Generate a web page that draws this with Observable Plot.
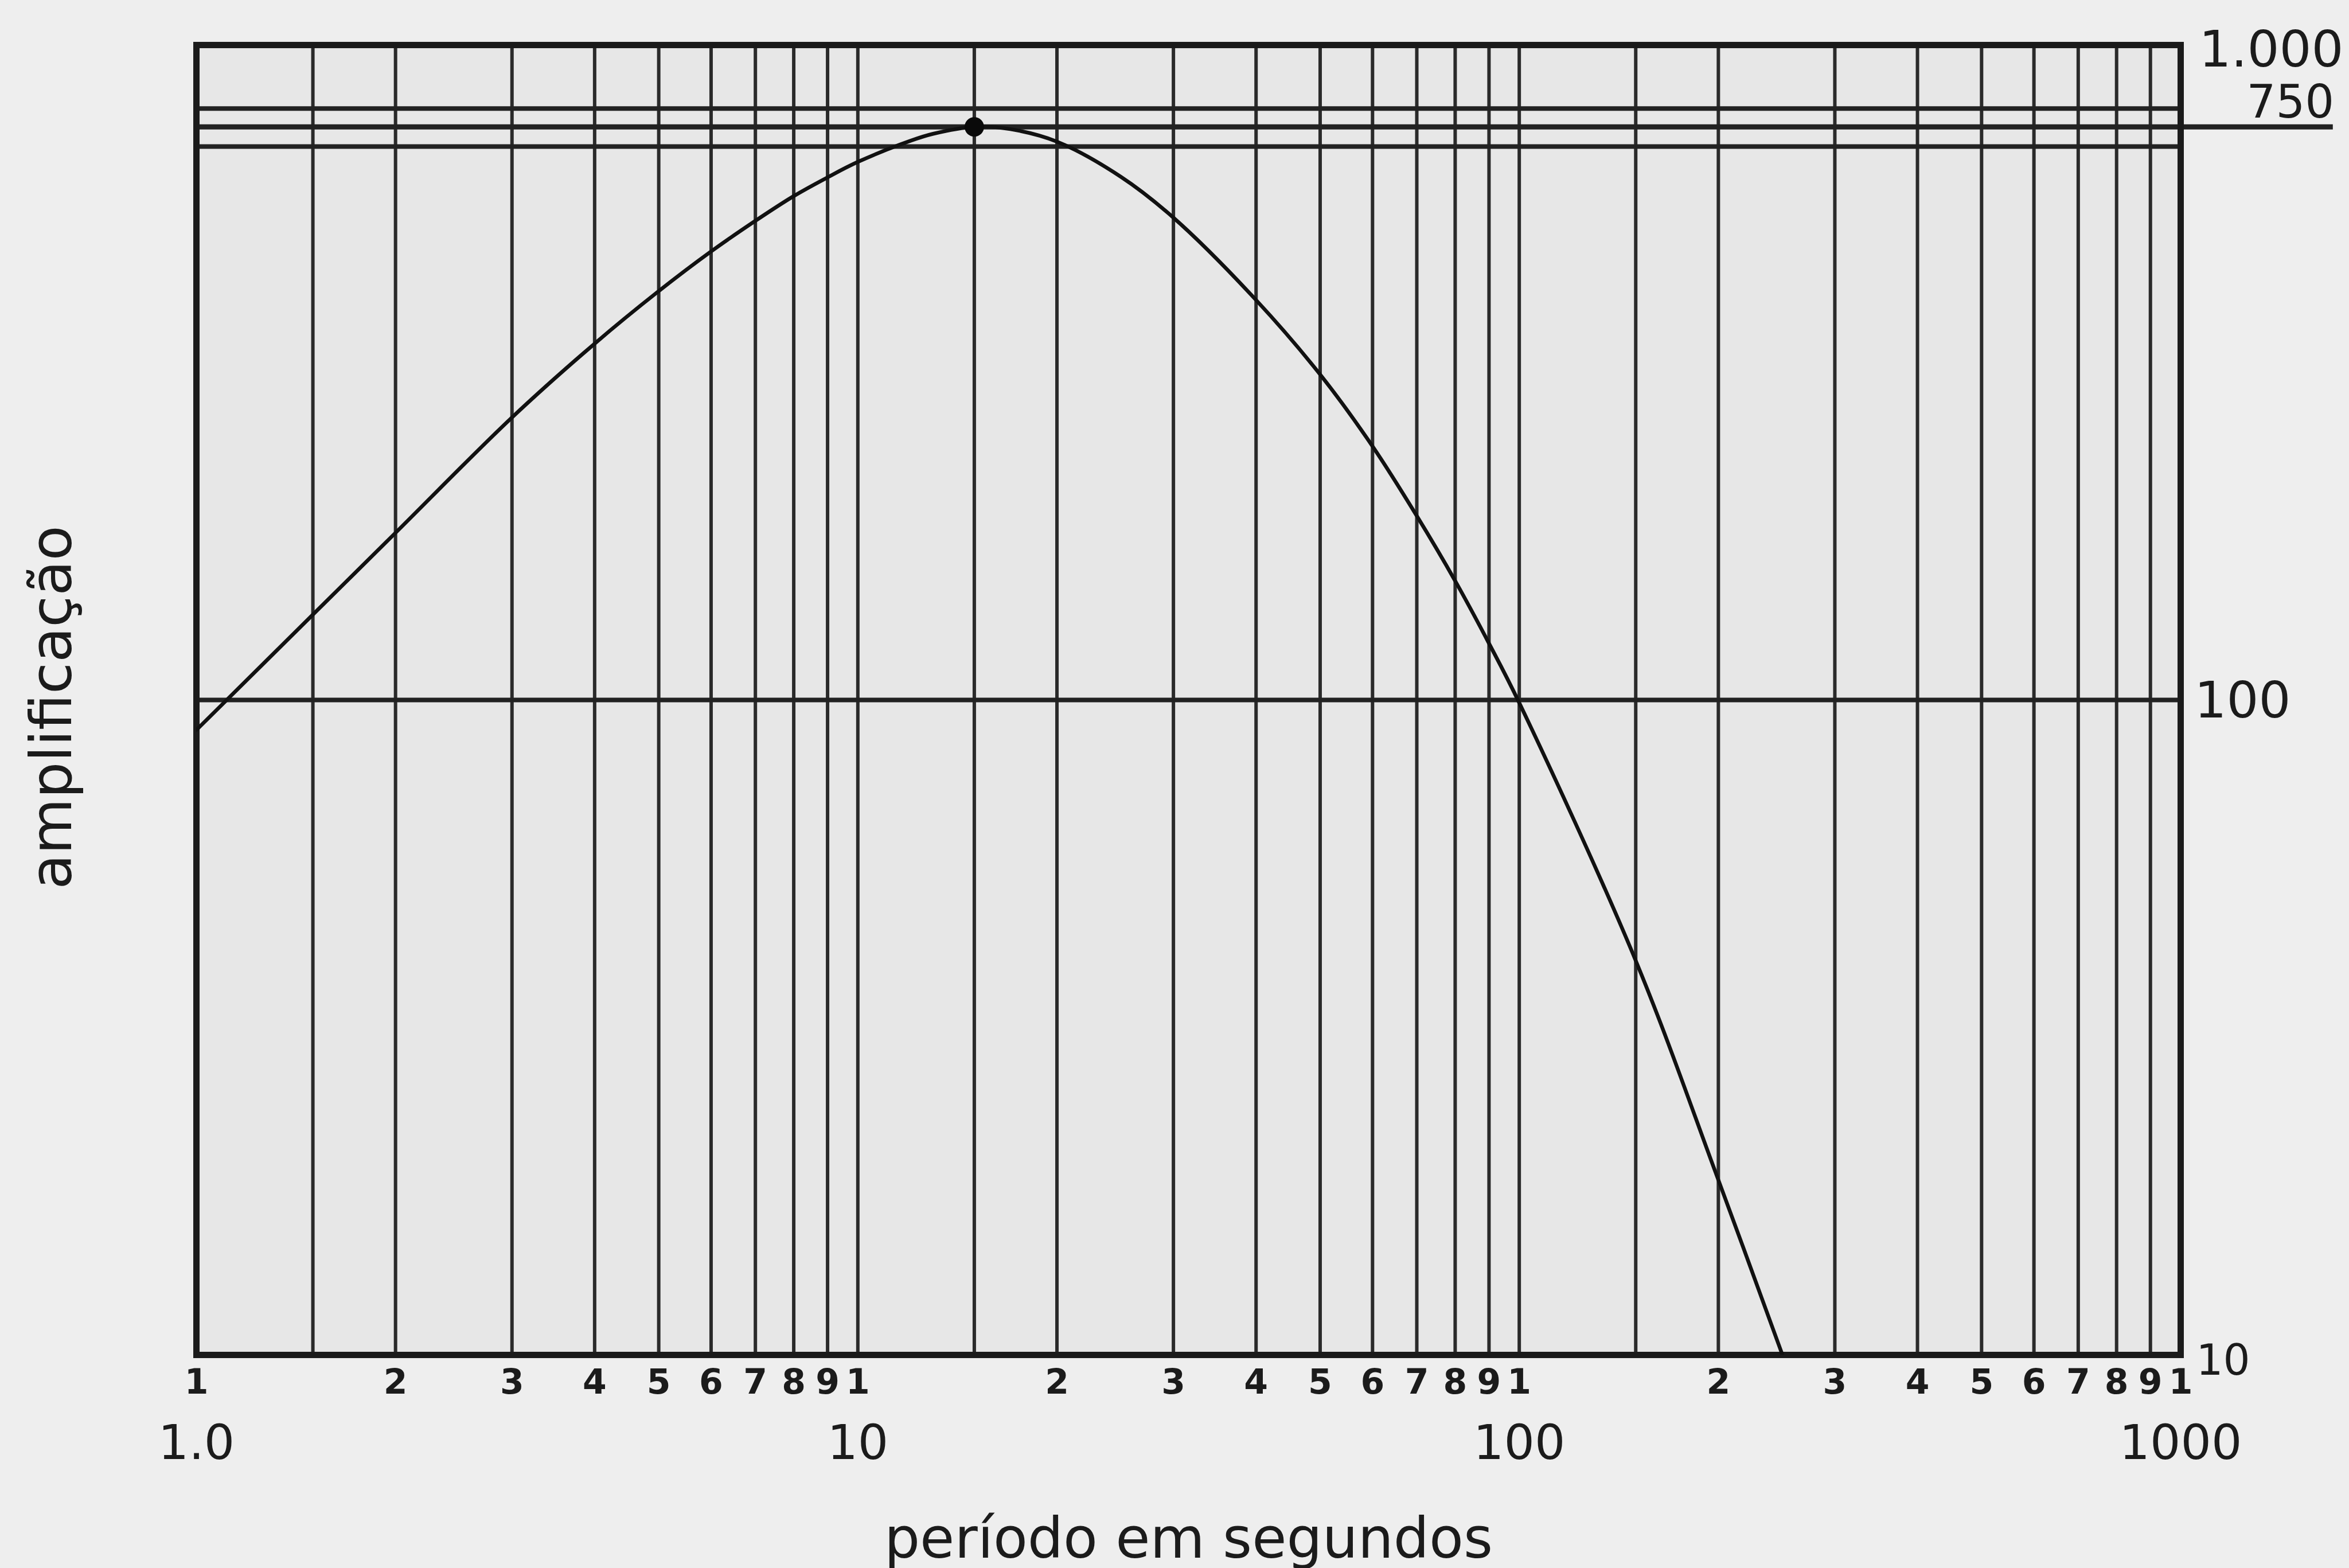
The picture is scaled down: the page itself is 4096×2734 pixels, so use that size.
<!DOCTYPE html>
<html>
<head>
<meta charset="utf-8">
<script src="https://cdn.jsdelivr.net/npm/d3@7"></script>
<script src="https://cdn.jsdelivr.net/npm/@observablehq/plot@0.6"></script>
<style>
  html, body { margin: 0; padding: 0; background: #eeeeee; }
  body { width: 4096px; height: 2734px; overflow: hidden; }
</style>
</head>
<body>
<div id="chart"></div>
<script>
// ---- data ----
const periods       = [1, 1.5, 2, 3, 4, 5, 6, 7, 8, 9, 10, 12, 13, 15, 17, 20, 25, 30, 40, 50, 60, 70, 80, 90, 100, 150, 200, 250];
const amplification = [90, 135, 180, 270, 350, 421, 484, 539, 588, 628, 663, 714, 732, 750, 744, 712, 629, 545, 408, 314, 244, 191, 152, 122, 99, 40, 18.5, 10];

const peakPeriod = [15];
const peakAmp    = [750];

const gridPeriods = [1, 1.5, 2, 3, 4, 5, 6, 7, 8, 9, 10, 15, 20, 30, 40, 50, 60, 70, 80, 90, 100, 150, 200, 300, 400, 500, 600, 700, 800, 900, 1000];
const gridAmps    = [100, 700, 800];
const markedAmp   = [750];
const markedAmpEnd = [1700]; // period up to which the 750 line runs, past the frame, under its label

const tickPeriods = [1, 2, 3, 4, 5, 6, 7, 8, 9, 10, 20, 30, 40, 50, 60, 70, 80, 90, 100, 200, 300, 400, 500, 600, 700, 800, 900, 1000];
const tickLabels  = ["1","2","3","4","5","6","7","8","9","1","2","3","4","5","6","7","8","9","1","2","3","4","5","6","7","8","9","1"];

const decadePeriods = [1, 10, 100, 1000];
const decadeLabels  = ["1.0", "10", "100", "1000"];

const ampLabelValues = [1000, 750, 100, 10];
const ampLabelTexts  = ["1.000", "750", "100", "10"];

const xTitle = "período em segundos";
const yTitle = "amplificação";

// ---- styles (not data) ----
const ink = "#1b1b1b";
const numFont = "DejaVu Sans";
const ampLabelStyle = [
  {dx: 32, dy: 9, size: 88},
  {dx: 115, dy: -42, size: 80},
  {dx: 24, dy: 2, size: 88},
  {dx: 27, dy: 11, size: 74}
];

const curve = periods.map((p, i) => ({p, a: amplification[i]}));
const peak = peakPeriod.map((p, i) => ({p, a: peakAmp[i]}));

const ampLabelMarks = ampLabelValues.map((v, i) => Plot.text([{v, t: ampLabelTexts[i]}], {
  x: () => 1000, y: "v", text: "t",
  textAnchor: "start", lineAnchor: "middle",
  dx: ampLabelStyle[i].dx, dy: ampLabelStyle[i].dy,
  fontSize: ampLabelStyle[i].size, fontFamily: numFont, fill: ink
}));

const chart = Plot.plot({
  width: 4096,
  height: 2734,
  marginLeft: 342,
  marginRight: 294,
  marginTop: 78,
  marginBottom: 372,
  style: {background: "#eeeeee", overflow: "visible"},
  x: {type: "log", domain: [1, 1000], axis: null},
  y: {type: "log", domain: [10, 1000], axis: null},
  marks: [
    Plot.frame({fill: "#e7e7e7", stroke: "none"}),
    Plot.ruleX(gridPeriods, {stroke: "#2a2a2a", strokeWidth: 6}),
    Plot.ruleY(gridAmps, {stroke: "#222", strokeWidth: 8}),
    Plot.ruleY(markedAmp, {x1: () => 1, x2: (d, i) => markedAmpEnd[i], stroke: "#222", strokeWidth: 9}),
    Plot.frame({stroke: ink, strokeWidth: 11}),
    Plot.line(curve, {x: "p", y: "a", curve: "catmull-rom", stroke: "#111", strokeWidth: 6.5, clip: true}),
    Plot.dot(peak, {x: "p", y: "a", r: 17, fill: "#0a0a0a", stroke: "none"}),
    Plot.text(tickPeriods, {x: d => d, text: (d, i) => tickLabels[i], frameAnchor: "bottom", dy: 48,
      textAnchor: "middle", lineAnchor: "middle", fontSize: 60, fontFamily: numFont, fontWeight: "bold", fill: ink}),
    Plot.text(decadePeriods, {x: d => d, text: (d, i) => decadeLabels[i], frameAnchor: "bottom", dy: 155,
      textAnchor: "middle", lineAnchor: "middle", fontSize: 84, fontFamily: numFont, fill: ink}),
    ...ampLabelMarks,
    Plot.text([xTitle], {text: d => d, frameAnchor: "bottom", dy: 322, textAnchor: "middle", lineAnchor: "middle",
      fontSize: 98, fontFamily: numFont, fill: ink}),
    Plot.text([yTitle], {text: d => d, frameAnchor: "left", dx: -251, dy: 13, rotate: -90,
      textAnchor: "middle", lineAnchor: "middle", fontSize: 100, fontFamily: numFont, fill: ink})
  ]
});
document.getElementById("chart").appendChild(chart);
</script>
</body>
</html>
